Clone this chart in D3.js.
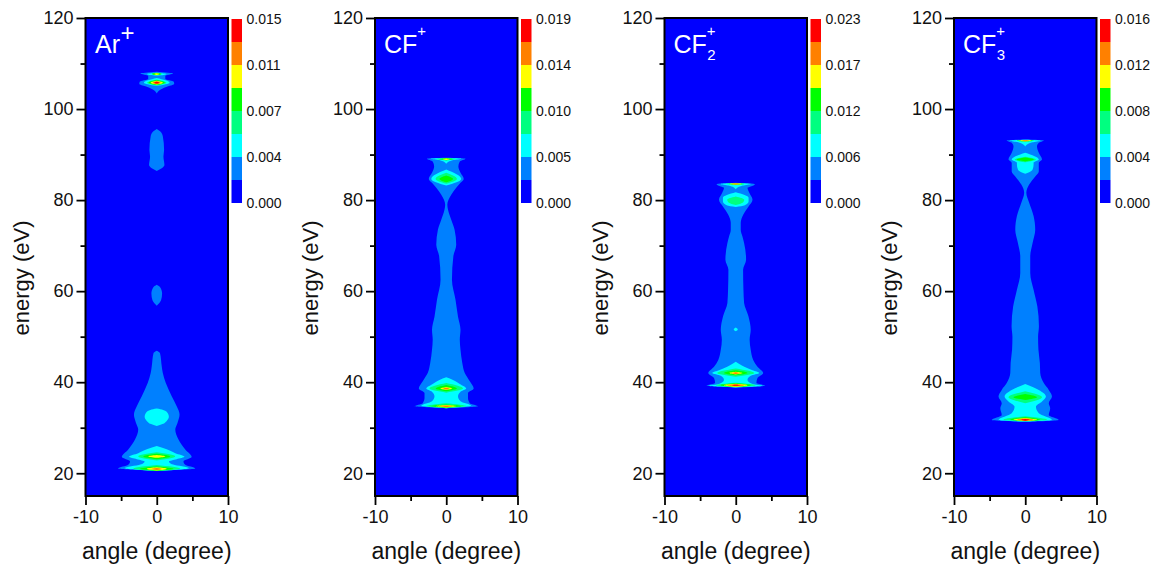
<!DOCTYPE html>
<html><head><meta charset="utf-8">
<script src="https://cdn.jsdelivr.net/npm/d3@7/dist/d3.min.js"></script>
<style>html,body{margin:0;padding:0;background:#fff}svg{display:block}text{font-family:"Liberation Sans",Arial,sans-serif}</style>
</head><body><svg id="c" width="1161" height="566"></svg>
<script>
// band colours, lowest to highest
const bandColors = ["#0000ff","#0080ff","#00ffff","#00ff80","#00ff00","#ffff00","#ff8000","#ff0000"];
const energyMajor = [20,40,60,80,100,120];
const energyMinor = [30,50,70,90,110];
const angleMajor = [-10,0,10];
const angleMinor = [-5,5];
const barArTicks = ["0.000","0.004","0.007","0.011","0.015"];
const barCfTicks = ["0.000","0.005","0.010","0.014","0.019"];
const barCf2Ticks = ["0.000","0.006","0.012","0.017","0.023"];
const barCf3Ticks = ["0.000","0.004","0.008","0.012","0.016"];

// each region: [band index, [[energy, half width in degrees], ...]]
const arRegions = [
 [1,[[108.2,0],[107.8,2.3],[107.3,1.2],[106.6,1.2],[106,2.4],[105.5,2.45],[105,1.6],[104.3,.55],[103.4,0]]],
 [2,[[108,0],[107.7,1.4],[107.3,0]]],
 [4,[[107.95,0],[107.7,.7],[107.4,0]]],
 [5,[[107.85,0],[107.7,.35],[107.5,0]]],
 [2,[[106.8,0],[105.8,1.8],[105.1,0]]],
 [3,[[106.5,0],[105.8,1.35],[105.2,0]]],
 [4,[[106.4,0],[105.8,1.15],[105.3,0]]],
 [5,[[106.2,0],[105.8,.85],[105.4,0]]],
 [6,[[106.1,0],[105.8,.55],[105.5,0]]],
 [7,[[106,0],[105.8,.35],[105.6,0]]],
 [1,[[95.6,0],[95.1,.47],[94,.85],[91,1.03],[89.6,.94],[87.7,1.08],[87,.7],[86.4,0]]],
 [1,[[61.4,0],[60.8,.5],[59.5,.75],[58,.6],[56.8,0]]],
 [1,[[46.9,0],[46.4,.45],[43.5,.7],[42,.85],[39.8,1.27],[36.9,2.1],[34.7,2.8],[32.9,3.2],[31,2.9],[29.6,2.6],[27.4,3.05],[25.2,4],[23.55,4.9],[22.6,3.75],[21.87,4],[21.06,5.4],[20.6,0]]],
 [2,[[34.2,0],[33.9,.9],[33.2,1.55],[32.4,1.7],[31.5,1.4],[30.8,.8],[30.4,0]]],
 [2,[[26,0],[25.3,1.3],[24.4,2.6],[23.6,3.9],[23.1,2.8],[22.6,1.7],[21.9,2.3],[21.1,4.5],[20.5,0]]],
 [3,[[24.6,0],[23.7,2.6],[22.8,0]]],
 [4,[[24.3,0],[23.7,1.9],[23.1,0]]],
 [5,[[24,0],[23.7,1.2],[23.4,0]]],
 [3,[[21.8,0],[21,3.3],[20.5,0]]],
 [4,[[21.5,0],[21,2.35],[20.55,0]]],
 [5,[[21.3,0],[21,1.4],[20.6,0]]],
 [6,[[21.15,0],[20.95,.7],[20.7,0]]]
];
const cfRegions = [
 [1,[[89.3,0],[89.1,2.7],[88.5,1.9],[87.4,1.7],[86,2],[84.65,2.45],[83.8,2],[82.7,1.4],[81.2,.7],[79,.15],[77.9,.25],[75.7,.7],[73.5,1.17],[70.2,1.4],[67.7,1],[62.5,.8],[58.1,1.3],[54.4,1.65],[51.5,2],[49.3,1.9],[47.1,2],[44.2,2.25],[42,2.6],[40.2,3.3],[38.6,3.85],[37.6,3.05],[36.5,3.05],[35.4,3.3],[34.7,4.45],[34.3,0]]],
 [2,[[89.25,0],[89.1,2.1],[88.8,1],[88,0]]],
 [3,[[89.2,0],[89,1.4],[88.7,0]]],
 [4,[[89.2,0],[89,.95],[88.75,0]]],
 [5,[[89.15,0],[89,.5],[88.8,0]]],
 [2,[[86.7,0],[84.65,2.1],[83.2,0]]],
 [3,[[86,0],[84.65,1.5],[83.6,0]]],
 [4,[[85.4,0],[84.65,.95],[83.9,0]]],
 [2,[[41.1,0],[40.5,.95],[39.6,1.9],[38.6,2.8],[37.9,2],[36.9,1.65],[35.8,2],[34.8,3.5],[34.3,0]]],
 [3,[[39.8,0],[38.6,2.35],[37.7,0]]],
 [4,[[39.4,0],[38.6,1.5],[38,0]]],
 [5,[[38.95,0],[38.6,.85],[38.3,0]]],
 [6,[[38.8,0],[38.6,.45],[38.4,0]]],
 [3,[[35.4,0],[34.75,2.8],[34.3,0]]],
 [4,[[35.1,0],[34.75,2.1],[34.4,0]]],
 [5,[[35,0],[34.75,1.4],[34.45,0]]],
 [6,[[34.9,0],[34.75,.85],[34.5,0]]]
];
const cf2Regions = [
 [1,[[83.8,0],[83.5,2.7],[83,2.1],[82.7,1.65],[81.6,1.9],[80.1,2.35],[78.6,1.8],[76.8,1.05],[75,.7],[73.5,.7],[72,.94],[70.6,1.17],[66.9,1.45],[64.7,1.03],[60.3,1.08],[57.4,1.17],[54.5,1.78],[51.5,2.1],[49.3,1.95],[47.1,2.1],[44.9,2.45],[43.4,3.05],[42,3.85],[40.9,3.05],[39.8,2.9],[39.2,4.1],[38.8,0]]],
 [2,[[83.75,0],[83.55,2.1],[83.2,1],[82.4,0]]],
 [4,[[83.7,0],[83.55,1.2],[83.35,0]]],
 [5,[[83.7,0],[83.55,.85],[83.4,0]]],
 [6,[[83.65,0],[83.55,.55],[83.45,0]]],
 [2,[[81.7,0],[80.5,1.8],[79.7,1.8],[78.8,1.2],[78.5,0]]],
 [3,[[80.8,0],[80.1,1.2],[79.4,.95],[78.9,0]]],
 [2,[[52,0],[51.6,.28],[51.2,0]]],
 [2,[[44.5,0],[43.4,1.2],[42.6,2.35],[42,3.3],[41.4,2.1],[40.5,1.65],[39.6,2.35],[39.2,3.75],[38.85,0]]],
 [3,[[43,0],[42,2.6],[41.2,0]]],
 [4,[[42.6,0],[42,1.65],[41.5,0]]],
 [5,[[42.3,0],[42,.95],[41.7,0]]],
 [6,[[42.2,0],[42,.5],[41.8,0]]],
 [3,[[39.9,0],[39.35,2.8],[38.9,0]]],
 [4,[[39.75,0],[39.35,2.1],[38.95,0]]],
 [5,[[39.65,0],[39.35,1.65],[39,0]]],
 [6,[[39.55,0],[39.35,1.15],[39.1,0]]],
 [7,[[39.45,0],[39.35,.55],[39.2,0]]]
];
const cf3Regions = [
 [1,[[93.3,0],[93.1,2.6],[92.6,1.9],[91.8,1.65],[90.4,1.9],[88.9,2.35],[88.2,1.9],[86.3,1.9],[85.2,1.4],[83.4,.55],[81.6,.15],[79.4,.55],[76.5,1.17],[73.5,1.4],[70.6,1.03],[67.6,.7],[64,.7],[60.3,1.17],[56.6,1.7],[52.3,1.92],[50,1.8],[47.1,1.85],[44.2,2.05],[42,2.1],[39.8,2.6],[38.3,3.3],[36.85,3.75],[35.4,3.3],[34.3,3.5],[32.8,3.3],[31.7,4.7],[31.3,0]]],
 [2,[[93.25,0],[93.05,2.1],[92.7,1],[91.8,0]]],
 [4,[[93.2,0],[93.05,1.2],[92.85,0]]],
 [5,[[93.2,0],[93.05,.85],[92.9,0]]],
 [6,[[93.15,0],[93.05,.55],[92.95,0]]],
 [2,[[90.4,0],[88.9,1.9],[88.2,1.17],[87.8,1.17],[86.7,1.03],[86.1,.55],[85.8,0]]],
 [3,[[89.5,0],[88.9,1.5],[88.3,0]]],
 [4,[[89.35,0],[88.9,1.22],[88.5,0]]],
 [2,[[39.6,0],[38.3,1.9],[36.85,2.9],[35.75,2.35],[34.6,1.5],[33.2,1.9],[31.7,3.75],[31.35,0]]],
 [3,[[38,0],[36.7,2.35],[35.4,0]]],
 [4,[[37.4,0],[36.7,1.65],[36.1,0]]],
 [3,[[32.5,0],[31.75,3.05],[31.4,0]]],
 [4,[[32.3,0],[31.75,2.1],[31.45,0]]],
 [5,[[32.15,0],[31.75,1.65],[31.45,0]]],
 [6,[[32.05,0],[31.75,1.15],[31.5,0]]],
 [7,[[31.9,0],[31.75,.55],[31.55,0]]]
];
const panels = [
 {left:85.5, regions:arRegions, ticks:barArTicks, name:"Ar", sup:"+", sub:null},
 {left:375, regions:cfRegions, ticks:barCfTicks, name:"CF", sup:"+", sub:null},
 {left:664.5, regions:cf2Regions, ticks:barCf2Ticks, name:"CF", sup:"+", sub:"2"},
 {left:954, regions:cf3Regions, ticks:barCf3Ticks, name:"CF", sup:"+", sub:"3"}
];
const W=142.5, H=478, T=18;
const x=d3.scaleLinear().domain([-10,10]).range([0,W]);
const y=d3.scaleLinear().domain([15,120]).range([H,0]);
const svg=d3.select("#c");

panels.forEach((p,pi)=>{
  const g=svg.append("g").attr("transform",`translate(${p.left},${T})`);
  g.append("rect").attr("width",W).attr("height",H).attr("fill",bandColors[0]);
  const area=d3.area().y(d=>y(d[0])).x0(d=>x(-d[1])).x1(d=>x(d[1])).curve(d3.curveMonotoneY);
  g.selectAll("path.r").data(p.regions).join("path").attr("class","r")
    .attr("d",d=>area(d[1])).attr("fill",d=>bandColors[d[0]]);
  // frame
  g.append("rect").attr("width",W).attr("height",H).attr("fill","none").attr("stroke","#000").attr("stroke-width",2);
  // axes
  const ax=(axis,major,minor,tf,isY)=>{
    const maj=g.append("g").attr("transform",tf).call(axis.tickValues(major).tickSize(9).tickPadding(isY?3:5).tickFormat(d=>String(d)));
    const mn=g.append("g").attr("transform",tf).call(axis.tickValues(minor).tickSize(5).tickFormat(""));
    [maj,mn].forEach(s=>{s.select(".domain").remove();s.selectAll("line").attr("stroke","#000").attr("stroke-width",1.8);});
    maj.selectAll("text").attr("font-size",18).attr("font-family",'"Liberation Sans"').attr("fill","#111");
  };
  ax(d3.axisLeft(y),energyMajor,energyMinor,"translate(0,0)",true);
  ax(d3.axisBottom(x),angleMajor,angleMinor,`translate(0,${H})`,false);
  // axis titles
  g.append("text").attr("x",W/2).attr("y",H+62.5).attr("text-anchor","middle").attr("font-size",23).attr("fill","#111").text("angle (degree)");
  g.append("text").attr("transform",`translate(-57,${H/2+21}) rotate(-90)`).attr("text-anchor","middle").attr("font-size",22).attr("fill","#111").text("energy (eV)");
  // panel label
  const lx=pi===0?9.5:9;
  const t=g.append("text").attr("x",lx).attr("y",35).attr("fill","#fff").attr("font-size",25).text(p.name);
  const nw=t.node().getComputedTextLength();
  if(pi===0){
    g.append("text").attr("x",lx+nw+0.5).attr("y",23).attr("fill","#fff").attr("font-size",24).text(p.sup);
  }else{
    g.append("text").attr("x",lx+nw).attr("y",18).attr("fill","#fff").attr("font-size",15).text(p.sup);
    if(p.sub) g.append("text").attr("x",lx+nw+0.5).attr("y",42).attr("fill","#fff").attr("font-size",15).text(p.sub);
  }
  // colour bar
  const bx=W+3.5, bw=10.5;
  const barScale=d3.scaleLinear().domain([0,bandColors.length]).range([185,1]);
  const bar=g.append("g").attr("transform",`translate(${bx},0)`);
  bar.selectAll("rect").data(bandColors).join("rect")
    .attr("y",(d,i)=>barScale(i+1)).attr("width",bw)
    .attr("height",(d,i)=>barScale(i)-barScale(i+1)).attr("fill",d=>d);
  const tickScale=d3.scalePoint().domain(p.ticks).range([185,1]);
  bar.selectAll("text").data(p.ticks).join("text")
    .attr("x",bw+4.5).attr("y",d=>tickScale(d)+5).attr("font-size",14).attr("fill","#111").text(d=>d);
});
</script></body></html>
